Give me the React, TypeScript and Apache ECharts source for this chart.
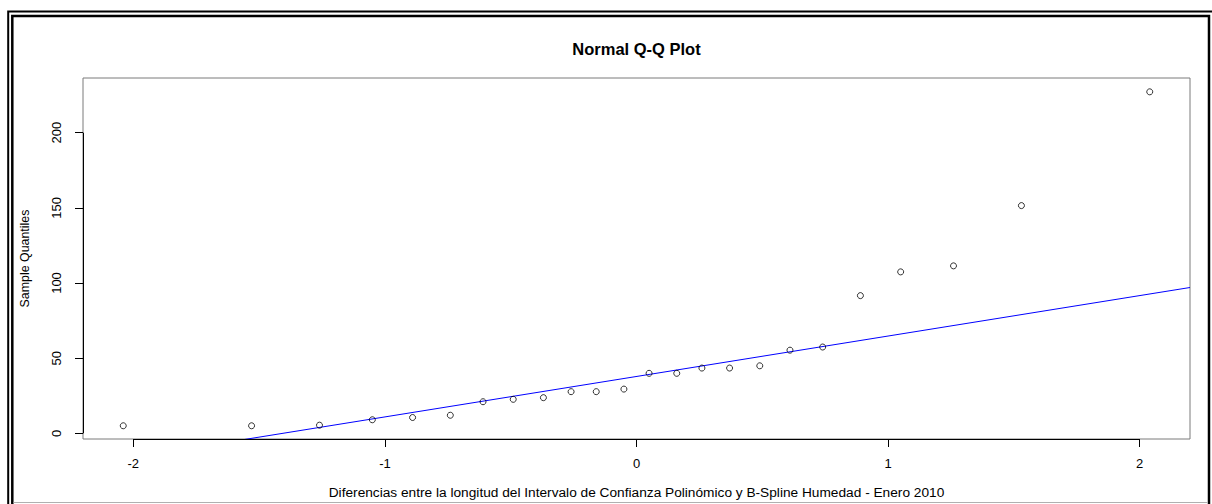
import React, { useEffect, useRef } from "react";
import * as echarts from "echarts";

// Theoretical normal quantiles (x) and sample quantiles (y), n = 24
const theoreticalQuantiles = [
  -2.04, -1.53, -1.26, -1.05, -0.89, -0.74, -0.61, -0.49, -0.37, -0.26, -0.16, -0.05,
  0.05, 0.16, 0.26, 0.37, 0.49, 0.61, 0.74, 0.89, 1.05, 1.26, 1.53, 2.04,
];
const sampleQuantiles = [
  5.0, 5.0, 5.4, 9.0, 10.5, 12.0, 21.0, 22.6, 23.7, 27.7, 27.7, 29.4,
  39.9, 39.9, 43.4, 43.4, 44.9, 55.3, 57.4, 91.6, 107.4, 111.4, 151.5, 227.2,
];
// qqline end points (clipped by the plot area)
const qqLineX = [-2.2, 2.2];
const qqLineY = [-21.4, 97.0];

const xTicks = [-2, -1, 0, 1, 2];
const yTicks = [0, 50, 100, 150, 200];
const xRange = [-2.2, 2.2];
const yRange = [-3.8, 236.4];

const titleText = "Normal Q-Q Plot";
const xLabel =
  "Diferencias entre la longitud del Intervalo de Confianza Polinómico y B-Spline Humedad - Enero 2010";
const yLabel = "Sample Quantiles";

const FONT = "'Liberation Sans', Arial, Helvetica, sans-serif";

export default function App() {
  const ref = useRef<HTMLDivElement>(null);

  useEffect(() => {
    document.body.style.margin = "0";
    const chart = echarts.init(ref.current as HTMLDivElement, null, { renderer: "svg" });

    const points = theoreticalQuantiles.map((x, i) => [x, sampleQuantiles[i]]);
    const linePts = qqLineX.map((x, i) => [x, qqLineY[i]]);

    chart.setOption({
      animation: false,
      backgroundColor: "#fff",
      grid: {
        left: 83,
        top: 78,
        right: 22,
        bottom: 61,
        show: true,
        borderColor: "#7a7a7a",
        borderWidth: 1,
        backgroundColor: "transparent",
      },
      xAxis: {
        type: "value",
        min: xRange[0],
        max: xRange[1],
        name: xLabel,
        nameLocation: "middle",
        nameGap: 46,
        nameTextStyle: { fontFamily: FONT, fontSize: 13.7, color: "#000" },
        axisLine: { show: false, onZero: false },
        splitLine: { show: false },
        axisTick: {
          show: true,
          length: 8,
          customValues: xTicks,
          lineStyle: { color: "#000", width: 1 },
        },
        axisLabel: {
          customValues: xTicks,
          margin: 18,
          fontSize: 13,
          fontFamily: FONT,
          color: "#000",
          formatter: (v: number) => String(v),
        },
      },
      yAxis: {
        type: "value",
        min: yRange[0],
        max: yRange[1],
        name: yLabel,
        nameLocation: "middle",
        nameGap: 52,
        nameRotate: 90,
        nameTextStyle: { fontFamily: FONT, fontSize: 12.4, color: "#000" },
        axisLine: { show: false, onZero: false },
        splitLine: { show: false },
        axisTick: {
          show: true,
          length: 8,
          customValues: yTicks,
          lineStyle: { color: "#000", width: 1 },
        },
        axisLabel: {
          customValues: yTicks,
          rotate: 90,
          margin: 20,
          fontSize: 13,
          fontFamily: FONT,
          color: "#000",
          formatter: (v: number) => String(v),
        },
      },
      series: [
        {
          type: "line",
          data: linePts,
          clip: true,
          showSymbol: false,
          symbol: "none",
          lineStyle: { color: "#0000ff", width: 1 },
          z: 2,
          silent: true,
        },
        {
          type: "scatter",
          data: points,
          symbol: "circle",
          symbolSize: 6,
          itemStyle: { color: "rgba(0,0,0,0)", borderColor: "#000", borderWidth: 1 },
          z: 3,
          silent: true,
        },
      ],
    });

    const xa0 = chart.convertToPixel({ gridIndex: 0 }, [xTicks[0], yRange[0]]) as number[];
    const xa1 = chart.convertToPixel({ gridIndex: 0 }, [xTicks[xTicks.length - 1], yRange[0]]) as number[];
    const ya0 = chart.convertToPixel({ gridIndex: 0 }, [xRange[0], yTicks[0]]) as number[];
    const ya1 = chart.convertToPixel({ gridIndex: 0 }, [xRange[0], yTicks[yTicks.length - 1]]) as number[];
    const midX = (chart.convertToPixel({ gridIndex: 0 }, [0, 0]) as number[])[0];

    chart.setOption({
      graphic: [
        // outer double frame
        {
          type: "rect",
          shape: { x: 8.2, y: 11.5, width: 1230, height: 530 },
          style: { fill: "none", stroke: "#000", lineWidth: 2 },
          silent: true,
        },
        {
          type: "rect",
          shape: { x: 12.3, y: 16, width: 1196.7, height: 530 },
          style: { fill: "none", stroke: "#000", lineWidth: 2.5 },
          silent: true,
        },
        {
          type: "line",
          shape: { x1: 13.5, y1: 502.5, x2: 1207.5, y2: 502.5 },
          style: { stroke: "#b0b0b0", lineWidth: 1 },
          silent: true,
        },
        // R-style axis lines spanning first to last tick
        {
          type: "line",
          shape: { x1: xa0[0], y1: Math.round(xa0[1]) + 0.5, x2: xa1[0], y2: Math.round(xa1[1]) + 0.5 },
          style: { stroke: "#000", lineWidth: 1 },
          z: 10,
          silent: true,
        },
        {
          type: "line",
          shape: { x1: Math.round(ya0[0]) + 0.5, y1: ya0[1], x2: Math.round(ya1[0]) + 0.5, y2: ya1[1] },
          style: { stroke: "#000", lineWidth: 1 },
          z: 10,
          silent: true,
        },
        {
          type: "text",
          x: midX,
          y: 49,
          style: {
            text: titleText,
            fontFamily: FONT,
            fontSize: 16.5,
            fontWeight: "bold",
            fill: "#000",
            align: "center",
            verticalAlign: "middle",
          },
          silent: true,
        },
      ],
    });

    return () => {
      chart.dispose();
    };
  }, []);

  return <div ref={ref} style={{ width: 1212, height: 504 }} />;
}
